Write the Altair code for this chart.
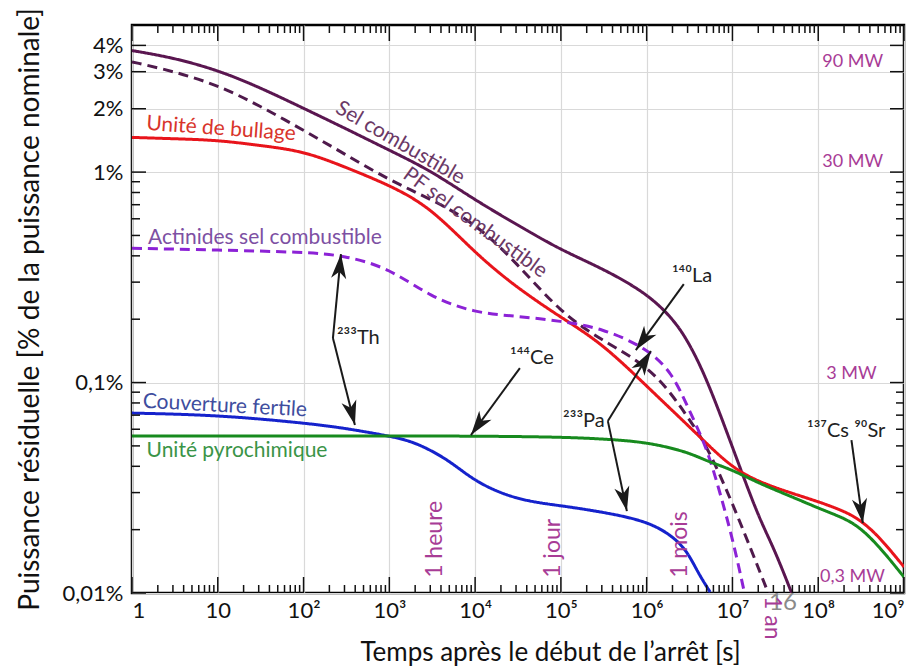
import math
import altair as alt
import pandas as pd

# ---------------- data (time in s, power in % of nominal) ----------------
sel_t = [1, 3, 10, 30, 100, 300, 1e3, 3e3, 1e4, 3e4, 1e5, 3e5, 1e6, 2e6, 3e6, 5e6, 1e7, 2e7, 3e7, 5e7]
sel_p = [3.78, 3.50, 3.05, 2.54, 2.01, 1.62, 1.27, 1.02, 0.736, 0.566, 0.426, 0.350, 0.266, 0.202, 0.159, 0.105, 0.0494, 0.023, 0.0166, 0.0098]

pf_t = [1, 3, 10, 30, 100, 300, 1e3, 3e3, 1e4, 3e4, 1e5, 3e5, 1e6, 2e6, 3e6, 5e6, 1e7, 2e7, 2.7e7]
pf_p = [3.34, 3.02, 2.59, 2.08, 1.58, 1.22, 0.916, 0.746, 0.573, 0.373, 0.214, 0.159, 0.121, 0.0872, 0.0686, 0.0505, 0.0268, 0.0132, 0.00967]

bul_t = [1, 3, 10, 30, 100, 300, 1e3, 3e3, 1e4, 3e4, 1e5, 3e5, 1e6, 3e6, 5e6, 1e7, 2e7, 5e7, 1e8, 2e8, 3e8, 5e8, 1e9]
bul_p = [1.462, 1.441, 1.419, 1.34, 1.26, 1.06, 0.868, 0.682, 0.412, 0.284, 0.204, 0.154, 0.0962, 0.0628, 0.0513, 0.0394, 0.0338, 0.0297, 0.0272, 0.0245, 0.0224, 0.0188, 0.0133]

act_t = [1, 10, 100, 300, 1e3, 3e3, 1e4, 3e4, 1e5, 3e5, 1e6, 2e6, 3e6, 5e6, 7e6, 1e7, 1.4e7]
act_p = [0.435, 0.426, 0.417, 0.402, 0.350, 0.255, 0.214, 0.207, 0.196, 0.1815, 0.146, 0.111, 0.0765, 0.0494, 0.0309, 0.0183, 0.00977]

cou_t = [1, 10, 100, 300, 1e3, 2e3, 5e3, 1e4, 3e4, 1e5, 3e5, 1e6, 2e6, 3e6, 4e6, 5.5e6]
cou_p = [0.0716, 0.0701, 0.0643, 0.0608, 0.0557, 0.0522, 0.0428, 0.0337, 0.0277, 0.0260, 0.0243, 0.0220, 0.0187, 0.0157, 0.0124, 0.0101]

pyr_t = [1, 10, 100, 1e3, 1e4, 1e5, 3e5, 1e6, 3e6, 5e6, 1e7, 2e7, 5e7, 1e8, 2e8, 3e8, 5e8, 1e9]
pyr_p = [0.0557, 0.0557, 0.0557, 0.0557, 0.0557, 0.0551, 0.0540, 0.0522, 0.0468, 0.0424, 0.0385, 0.0333, 0.0286, 0.0253, 0.0227, 0.0206, 0.0169, 0.0119]

names = ["Unité pyrochimique", "Couverture fertile", "Unité de bullage",
         "Actinides sel combustible", "PF sel combustible", "Sel combustible"]
line_colors = ["#178a1e", "#1522cc", "#e8141b", "#8c22d6", "#4f1a4c", "#5a1650"]
line_dashes = [[1, 0], [1, 0], [1, 0], [10, 6], [10, 6], [1, 0]]

# curve labels
lab_text = ["Sel combustible", "PF sel combustible", "Unité de bullage",
            "Actinides sel combustible", "Couverture fertile", "Unité pyrochimique"]
lab_t = [1331, 9968, 10.9, 35.5, 12.1, 16.75]
lab_p = [1.373, 0.5725, 1.601, 0.4885, 0.0773, 0.0472]
lab_angle = [30, 36, 4, 0, 3, 0]
lab_color = ["#6b3966", "#6b3966", "#d8342b", "#7d50a3", "#3e4d9e", "#3a9447"]

# isotope labels
iso_text = ["²³³Th", "¹⁴⁴Ce", "¹⁴⁰La", "²³³Pa", "¹³⁷Cs ⁹⁰Sr"]
iso_t = [245, 25500, 1.97e6, 1.06e5, 7.39e7]
iso_p = [0.1627, 0.1307, 0.3205, 0.0656, 0.0588]

# arrows (from -> to, head at "to")
arr_t1 = [220, 220, 33270, 2.71e6, 3.53e5, 3.53e5, 2.44e8]
arr_p1 = [0.1627, 0.1627, 0.1172, 0.2938, 0.0656, 0.0656, 0.0533]
arr_t2 = [273, 397, 8936, 7.48e5, 1.12e6, 5.88e5, 3.31e8]
arr_p2 = [0.4077, 0.0628, 0.0563, 0.1427, 0.1412, 0.0245, 0.0215]

# power labels on the right
mw_text = ["90 MW", "30 MW", "3 MW", "0,3 MW"]
mw_t = [5.7e8, 5.7e8, 4.8e8, 6.0e8]
mw_p = [3.33, 1.116, 0.1097, 0.0119]

# time markers
time_text = ["1 heure", "1 jour", "1 mois"]
time_t = [3400, 80900, 2.45e6]
time_p = [0.0118, 0.0118, 0.0118]
year_text = ["1 an"]
year_t = [2.89e7]
year_p = [0.00967]
stray_text = ["16"]
stray_t = [3.88e7]
stray_p = [0.00895]

# axis ticks
x_major = [1, 10, 100, 1e3, 1e4, 1e5, 1e6, 1e7, 1e8, 1e9]
x_minor = [m * 10 ** k for k in range(9) for m in range(2, 10)]
y_major = [0.01, 0.1, 1, 2, 3, 4]
y_minor = [m * 0.01 for m in range(2, 10)] + [m * 0.1 for m in range(2, 10)]

# ---------------- chart ----------------
W, H = 772, 568
XMIN, XMAX = 1, 1e9
YMIN, YMAX = 0.01, 5
FONT = "Lato"
MAG = "#a83c96"

rows = []
for name, ts, ps in [("Sel combustible", sel_t, sel_p), ("PF sel combustible", pf_t, pf_p),
                     ("Unité de bullage", bul_t, bul_p), ("Actinides sel combustible", act_t, act_p),
                     ("Couverture fertile", cou_t, cou_p), ("Unité pyrochimique", pyr_t, pyr_p)]:
    for t, p in zip(ts, ps):
        rows.append({"serie": name, "t": t, "p": p})
df = pd.DataFrame(rows)

xs = alt.Scale(type="log", domain=[XMIN, XMAX], nice=False)
ys = alt.Scale(type="log", domain=[YMIN, YMAX], nice=False)

x_label_expr = ("datum.value < 5 ? '1' : datum.value < 50 ? '10' : '10' + "
                "['⁰','¹','²','³','⁴','⁵','⁶','⁷','⁸','⁹'][round(log(datum.value) / LN10)]")
y_label_expr = ("datum.value >= 0.9 ? round(datum.value) + '%' : "
                "datum.value >= 0.09 ? '0,1%' : '0,01%'")

xaxis = alt.Axis(values=x_major, grid=True, gridColor="#d9d9d9", gridWidth=1.2,
                 ticks=False, tickSize=0, domain=False, labelExpr=x_label_expr,
                 labelFontSize=22, labelPadding=7, labelColor="#111",
                 title="Temps après le début de l’arrêt [s]", titleFontSize=26,
                 titleFontWeight="normal", titleColor="#111",
                 titleX=418, titleY=67, titleAlign="center", titleBaseline="alphabetic")
yaxis = alt.Axis(values=y_major, grid=True, gridColor="#d9d9d9", gridWidth=1.2,
                 ticks=False, tickSize=0, domain=False, labelExpr=y_label_expr,
                 labelFontSize=22, labelPadding=9, labelColor="#111",
                 title="Puissance résiduelle [% de la puissance nominale]", titleFontSize=28,
                 titleFontWeight="normal", titleColor="#111",
                 titleX=-94, titleY=284, titleAngle=270, titleAlign="center",
                 titleBaseline="alphabetic")

lines = alt.Chart(df).mark_line(strokeWidth=3, clip=True, interpolate="basis").encode(
    x=alt.X("t:Q", scale=xs, axis=xaxis),
    y=alt.Y("p:Q", scale=ys, axis=yaxis),
    color=alt.Color("serie:N", scale=alt.Scale(domain=names, range=line_colors), legend=None),
    strokeDash=alt.StrokeDash("serie:N", scale=alt.Scale(domain=names, range=line_dashes), legend=None),
    order=alt.Order("t:Q"),
)

# inward ticks
def xticks(vals, length):
    d = pd.DataFrame({"t": vals})
    bot = alt.Chart(d).mark_rule(color="#111", strokeWidth=1.5).encode(
        x=alt.X("t:Q", scale=xs), y=alt.value(H), y2=alt.value(H - length))
    top = alt.Chart(d).mark_rule(color="#111", strokeWidth=1.5).encode(
        x=alt.X("t:Q", scale=xs), y=alt.value(0), y2=alt.value(length))
    return [bot, top]

def yticks(vals, length):
    d = pd.DataFrame({"p": vals})
    left = alt.Chart(d).mark_rule(color="#111", strokeWidth=1.5).encode(
        y=alt.Y("p:Q", scale=ys), x=alt.value(0), x2=alt.value(length))
    right = alt.Chart(d).mark_rule(color="#111", strokeWidth=1.5).encode(
        y=alt.Y("p:Q", scale=ys), x=alt.value(W), x2=alt.value(W - length))
    return [left, right]

tick_layers = xticks(x_major, 16) + xticks(x_minor, 8) + yticks(y_major, 14) + yticks(y_minor, 8)

# arrows
px_per_dec_x = W / math.log10(XMAX / XMIN)
px_per_dec_y = H / math.log10(YMAX / YMIN)
heads = []
for t1, p1, t2, p2 in zip(arr_t1, arr_p1, arr_t2, arr_p2):
    dx = (math.log10(t2) - math.log10(t1)) * px_per_dec_x
    dy = -(math.log10(p2) - math.log10(p1)) * px_per_dec_y
    ang = math.degrees(math.atan2(dx, -dy)) % 360
    heads.append(ang)
arr_df = pd.DataFrame({"t": arr_t1, "p": arr_p1, "t2": arr_t2, "p2": arr_p2, "a": heads})

arrow_lines = alt.Chart(arr_df).mark_rule(color="#1a1a1a", strokeWidth=2).encode(
    x=alt.X("t:Q", scale=xs), y=alt.Y("p:Q", scale=ys), x2="t2:Q", y2="p2:Q")
arrow_heads = alt.Chart(arr_df).mark_point(
    shape="M0,0 L0.62,2 L0,1.45 L-0.62,2 Z", filled=True, size=600, color="#1a1a1a", opacity=1
).encode(x=alt.X("t2:Q", scale=xs), y=alt.Y("p2:Q", scale=ys), angle=alt.Angle("a:Q", scale=None))

# texts
lab_df = pd.DataFrame({"t": lab_t, "p": lab_p, "txt": lab_text, "a": lab_angle, "c": lab_color})
curve_labels = alt.Chart(lab_df).mark_text(font=FONT, fontSize=21, align="center", baseline="middle").encode(
    x=alt.X("t:Q", scale=xs), y=alt.Y("p:Q", scale=ys), text="txt:N",
    angle=alt.Angle("a:Q", scale=None), color=alt.Color("c:N", scale=None))

iso_df = pd.DataFrame({"t": iso_t, "p": iso_p, "txt": iso_text})
iso_labels = alt.Chart(iso_df).mark_text(font=FONT, fontSize=20, align="left", baseline="middle",
                                         color="#222").encode(
    x=alt.X("t:Q", scale=xs), y=alt.Y("p:Q", scale=ys), text="txt:N")

mw_df = pd.DataFrame({"t": mw_t, "p": mw_p, "txt": mw_text})
mw_labels = alt.Chart(mw_df).mark_text(font=FONT, fontSize=18, align="right", baseline="middle",
                                       color=MAG).encode(
    x=alt.X("t:Q", scale=xs), y=alt.Y("p:Q", scale=ys), text="txt:N")

time_df = pd.DataFrame({"t": time_t, "p": time_p, "txt": time_text})
time_labels = alt.Chart(time_df).mark_text(font=FONT, fontSize=23, align="left", baseline="middle",
                                           angle=270, color=MAG).encode(
    x=alt.X("t:Q", scale=xs), y=alt.Y("p:Q", scale=ys), text="txt:N")

year_df = pd.DataFrame({"t": year_t, "p": year_p, "txt": year_text})
year_label = alt.Chart(year_df).mark_text(font=FONT, fontSize=23, align="left", baseline="middle",
                                          angle=90, color=MAG).encode(
    x=alt.X("t:Q", scale=xs), y=alt.Y("p:Q", scale=ys), text="txt:N")

stray_df = pd.DataFrame({"t": stray_t, "p": stray_p, "txt": stray_text})
stray_label = alt.Chart(stray_df).mark_text(font=FONT, fontSize=24, align="center", baseline="middle",
                                            color="#8a8a8a").encode(
    x=alt.X("t:Q", scale=xs), y=alt.Y("p:Q", scale=ys), text="txt:N")

chart = alt.layer(
    lines, *tick_layers, arrow_lines, arrow_heads, curve_labels, iso_labels,
    mw_labels, time_labels, stray_label, year_label
).properties(
    width=W, height=H,
    autosize=alt.AutoSizeParams(type="none"),
    padding={"left": 132, "top": 25, "right": 2, "bottom": 73},
    background="white",
).configure_view(
    stroke="#000", strokeWidth=2.5
).configure_axis(
    labelFont=FONT, titleFont=FONT
)

chart.save("out.html", embed_options={"renderer": "svg", "actions": False})
